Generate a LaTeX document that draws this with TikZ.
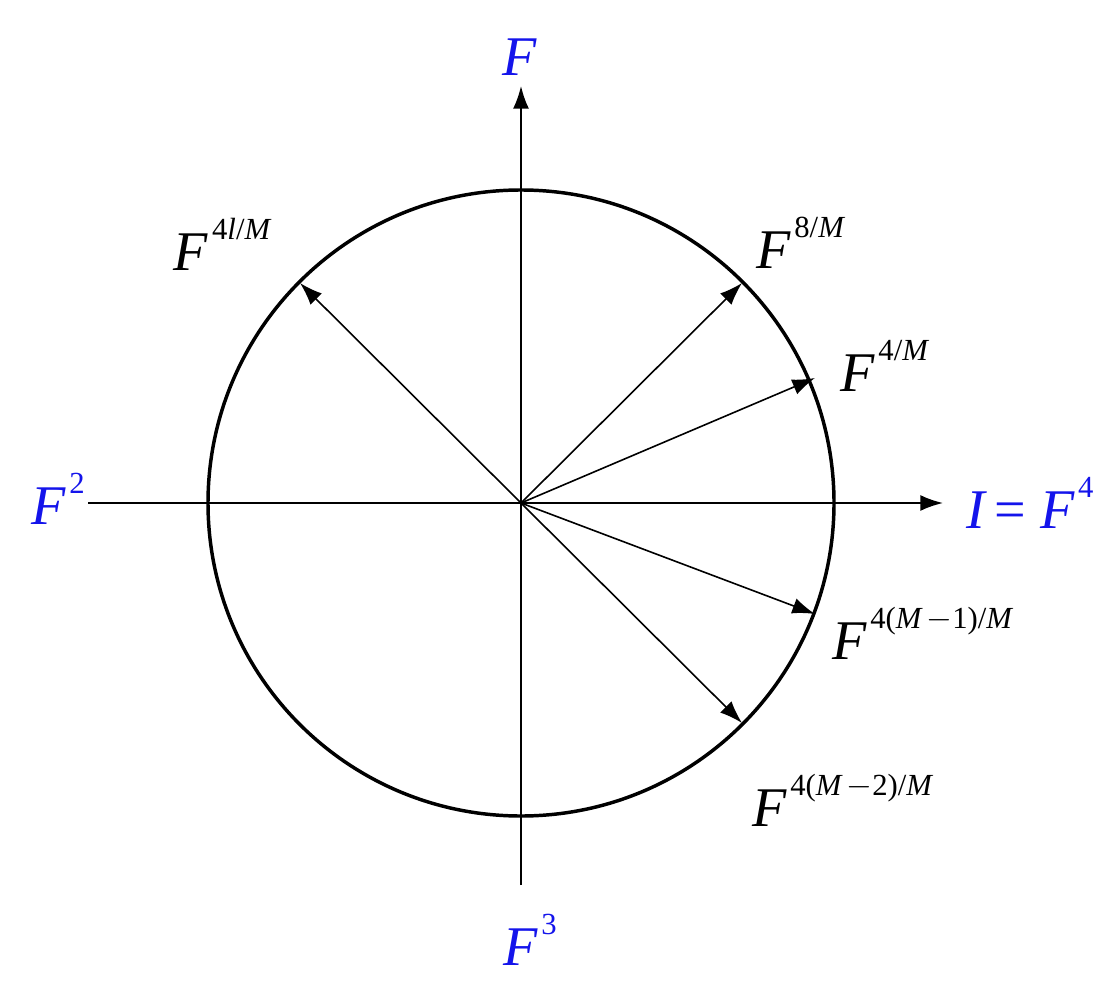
\documentclass[tikz,border=0pt]{standalone}
\usepackage{fontspec}
\setmainfont{Liberation Serif}
\usetikzlibrary{arrows.meta}
\definecolor{lblue}{RGB}{20,20,235}
\newcommand{\sups}[1]{\kern3pt\raisebox{0.55em}{\fontsize{23}{25}\selectfont\upshape #1}}
\begin{document}
\begin{tikzpicture}[x=0.75pt,y=-0.75pt,
  ax/.style={line width=1.4pt,-{Latex[length=17pt,width=12pt]}},
  vec/.style={line width=1.2pt,-{Latex[length=17pt,width=12pt]}},
  lbl/.style={font=\fontsize{42}{44}\selectfont\itshape,inner sep=0pt},
  blbl/.style={lbl,text=lblue}]
\useasboundingbox (0,0) rectangle (1116,987);
\coordinate (O) at (521,503);
\draw[line width=2.6pt] (O) circle[radius=313];
\coordinate (xl) at (88,503);
\coordinate (xr) at (943,503);
\coordinate (yb) at (521,885);
\coordinate (yt) at (521,86);
\draw[ax] (xl) -- (xr);
\draw[ax] (yb) -- (yt);
\coordinate (a1) at (742,283);
\coordinate (a2) at (815,378);
\coordinate (a3) at (815,614);
\coordinate (a4) at (742,723);
\coordinate (a5) at (300,283);
\foreach \p in {a1,a2,a3,a4,a5} \draw[vec] (O) -- (\p);
\node[blbl] (lF) at (520,57) {F};
\node[blbl] (lI) at (1030,503) {I\,\upshape = \itshape F\sups{4}};
\node[blbl] (lF2) at (58,499) {F\sups{2}};
\node[blbl] (lF3) at (530,940) {F\sups{3}};
\node[lbl] (l5) at (222,244) {F\sups{4\itshape l\upshape/\itshape M}};
\node[lbl] (l1) at (800,243) {F\sups{8/\itshape M}};
\node[lbl] (l2) at (884,366) {F\sups{4/\itshape M}};
\node[lbl] (l3) at (922,633) {F\sups{4(\itshape M\upshape\,$-$1)/\itshape M}};
\node[lbl] (l4) at (842,800) {F\sups{4(\itshape M\upshape\,$-$2)/\itshape M}};
\end{tikzpicture}
\end{document}
